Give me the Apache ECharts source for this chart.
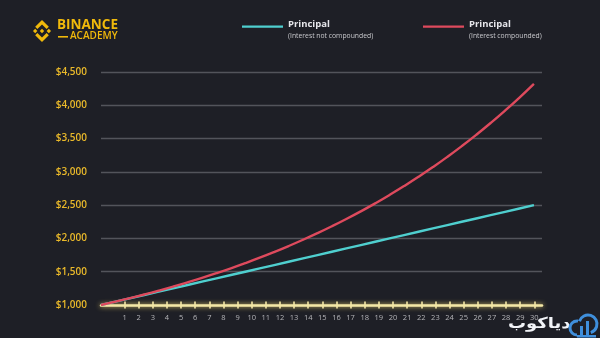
<!DOCTYPE html>
<html><head><meta charset="utf-8">
<script src="https://cdn.jsdelivr.net/npm/echarts@6/dist/echarts.min.js"></script>
<style>html,body{margin:0;padding:0;background:#1e1f26;}#c{width:600px;height:338px;}</style>
</head><body><div id="c"></div>
<script>
var years = [0,1,2,3,4,5,6,7,8,9,10,11,12,13,14,15,16,17,18,19,20,21,22,23,24,25,26,27,28,29,30];
var simpleValues = [1000,1050,1100,1150,1200,1250,1300,1350,1400,1450,1500,1550,1600,1650,1700,1750,1800,1850,1900,1950,2000,2050,2100,2150,2200,2250,2300,2350,2400,2450,2500];
var compoundValues = [1000,1050,1102.5,1157.6,1215.5,1276.3,1340.1,1407.1,1477.5,1551.3,1628.9,1710.3,1795.9,1885.6,1979.9,2078.9,2182.9,2292.0,2406.6,2527.0,2653.3,2786.0,2925.3,3071.5,3225.1,3386.4,3555.7,3733.5,3920.1,4116.1,4321.9];
var xTickLabels = [1,2,3,4,5,6,7,8,9,10,11,12,13,14,15,16,17,18,19,20,21,22,23,24,25,26,27,28,29,30];
var seriesNames = ['Principal','Principal'];
var seriesNotes = ['(Interest not compounded)','(Interest compounded)'];

var chart = echarts.init(document.getElementById('c'));
var cyan = '#4fcfcf', red = '#de4a5d', yellow = '#eab92a', cream = '#f4e7a6', blue = '#3f8fdc';

function pairs(vals){ return years.map(function(y,i){ return [y, vals[i]]; }); }
function logoPoly(pts, cx, cy, s){ return pts.map(function(p){ return [cx + p[0]*s, cy + p[1]*s]; }); }
var lc = [42, 31], ls = 11;
var dia = function(x,y,r){ return [[x,y-r],[x+r,y],[x,y+r],[x-r,y]]; };
var topChev = [[0,-1],[0.62,-0.38],[0.42,-0.18],[0,-0.6],[-0.42,-0.18],[-0.62,-0.38]];
var botChev = topChev.map(function(p){ return [p[0], -p[1]]; });

chart.setOption({
  backgroundColor:'#1e1f26',
  animation:false,
  grid:{left:101, right:58, top:72, bottom:33},
  xAxis:[
    { type:'value', min:-0.665, max:30.545, position:'bottom', splitLine:{show:false},
      axisLine:{show:true, onZero:false, lineStyle:{color:cream, width:2.5, shadowColor:'rgba(255,228,120,0.9)', shadowBlur:5}},
      axisTick:{show:true, customValues:xTickLabels, length:3.5, lineStyle:{color:cream, width:1.6}},
      axisLabel:{show:true, customValues:xTickLabels, color:'#b4b4b8', fontSize:7.5, margin:9, fontFamily:'Open Sans'}
    },
    { type:'value', min:-0.665, max:30.545, position:'bottom', splitLine:{show:false},
      axisLine:{show:false, onZero:false},
      axisTick:{show:true, inside:true, customValues:xTickLabels, length:3.5, lineStyle:{color:cream, width:1.6}},
      axisLabel:{show:false}
    },
    { type:'value', min:0, max:30.56, position:'bottom', show:false, splitLine:{show:false} }
  ],
  yAxis:{
    type:'value', min:1000, max:4500, interval:500,
    axisLine:{show:false}, axisTick:{show:false},
    splitLine:{lineStyle:{color:'#53545b', width:1.3}},
    axisLabel:{color:yellow, fontSize:10, fontWeight:600, margin:14, fontFamily:'Open Sans',
      formatter:function(v){ return '$' + v.toLocaleString('en-US'); }}
  },
  series:[
    {name:'Principal (Interest not compounded)', type:'line', xAxisIndex:2, data:pairs(simpleValues), showSymbol:false, symbol:'none',
      lineStyle:{color:cyan, width:2.4}, z:3},
    {name:'Principal (Interest compounded)', type:'line', xAxisIndex:2, data:pairs(compoundValues), showSymbol:false, symbol:'none', smooth:true,
      lineStyle:{color:red, width:2.4}, z:4}
  ],
  graphic:[
    {type:'polygon', shape:{points:logoPoly(topChev, lc[0], lc[1], ls)}, style:{fill:'#f0b90b'}},
    {type:'polygon', shape:{points:logoPoly(botChev, lc[0], lc[1], ls)}, style:{fill:'#f0b90b'}},
    {type:'polygon', shape:{points:logoPoly(dia(0,0,0.2), lc[0], lc[1], ls)}, style:{fill:'#f0b90b'}},
    {type:'polygon', shape:{points:logoPoly(dia(-0.62,0,0.2), lc[0], lc[1], ls)}, style:{fill:'#f0b90b'}},
    {type:'polygon', shape:{points:logoPoly(dia(0.62,0,0.2), lc[0], lc[1], ls)}, style:{fill:'#f0b90b'}},
    {type:'text', x:57, y:18, style:{text:'BINANCE', fill:'#f0b90b', font:'700 13.5px "Open Sans"'}},
    {type:'rect', shape:{x:58, y:36, width:10, height:1.6}, style:{fill:'#f0b90b'}},
    {type:'text', x:70, y:31.5, style:{text:'ACADEMY', fill:'#f0b90b', font:'600 10px "Open Sans"'}},

    {type:'rect', shape:{x:242, y:25.5, width:41, height:2.2}, style:{fill:cyan}},
    {type:'text', x:288, y:19.5, style:{text:seriesNames[0], fill:'#e6e6ea', font:'700 9.5px "Open Sans"'}},
    {type:'text', x:288, y:32.5, style:{text:seriesNotes[0], fill:'#c8c8cc', font:'6.8px "Open Sans"'}},
    {type:'rect', shape:{x:423, y:25.5, width:41, height:2.2}, style:{fill:red}},
    {type:'text', x:469, y:19.5, style:{text:seriesNames[1], fill:'#e6e6ea', font:'700 9.5px "Open Sans"'}},
    {type:'text', x:469, y:32.5, style:{text:seriesNotes[1], fill:'#c8c8cc', font:'6.8px "Open Sans"'}},

    {type:'text', x:508, y:317, scaleX:1.2, style:{text:'دیاکوب', fill:'#f2f4f8', font:'700 15px "DejaVu Sans"'}},
    {type:'arc', shape:{cx:577, cy:328, r:7, startAngle:Math.PI*0.5, endAngle:Math.PI*1.55}, style:{fill:'none', stroke:blue, lineWidth:3}},
    {type:'arc', shape:{cx:588, cy:324, r:9, startAngle:Math.PI*1.1, endAngle:Math.PI*2.4}, style:{fill:'none', stroke:blue, lineWidth:3}},
    {type:'rect', shape:{x:580, y:326, width:3, height:11}, style:{fill:blue}},
    {type:'rect', shape:{x:586, y:321, width:3, height:16}, style:{fill:blue}},
    {type:'rect', shape:{x:577, y:335, width:19, height:2.5}, style:{fill:blue}}
  ]
});
</script></body></html>
